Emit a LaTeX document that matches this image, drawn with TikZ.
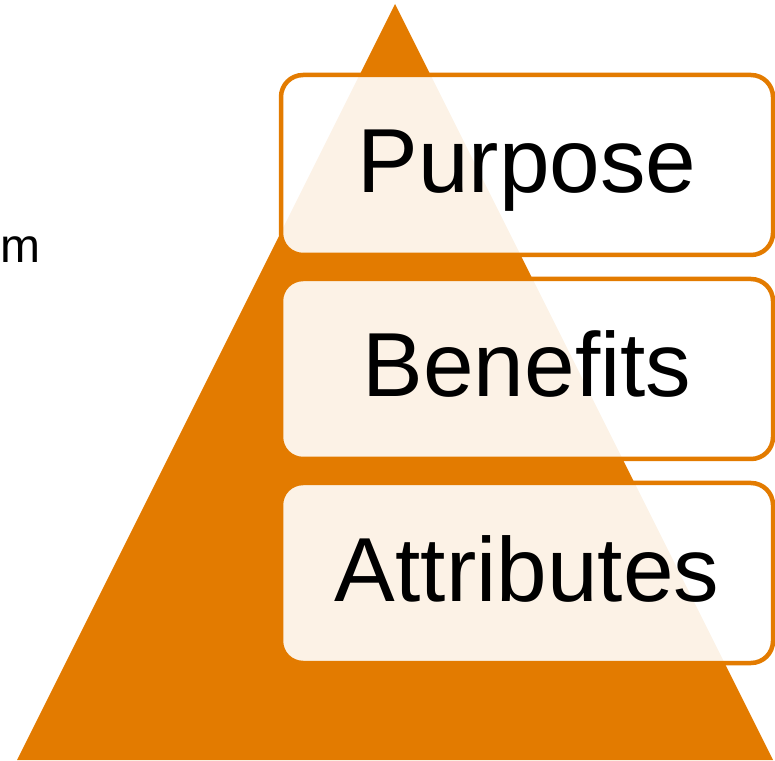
\documentclass[tikz,border=0pt]{standalone}
\usepackage{fontspec}
\setmainfont{Liberation Sans}
\usetikzlibrary{shapes}
\definecolor{pyramid}{RGB}{227,123,0}
\tikzstyle{level} =
        [
                rectangle,
                draw = pyramid,
                line width = 4.5pt,
                fill = white,
                fill opacity = 0.9,
                text opacity = 1,
                rounded corners = 22pt,
                minimum width = 492pt,
                minimum height = 180pt,
                text height = 66pt,
                text depth = 10pt,
                font = \fontsize{91}{91}\selectfont
        ]
\tikzstyle{side} =
        [
                anchor = base east,
                inner sep = 0pt,
                font = \fontsize{48}{48}\selectfont
        ]

\begin{document}
\begin{tikzpicture}[x = 1pt, y = 1pt]
        \useasboundingbox (0,0) rectangle (775,760);
        \clip (0,0) rectangle (775,760);
        \fill [pyramid] (395,756) -- (773,0) -- (17,0) -- cycle;

        \node [level] (purpose) at (527,595) {Purpose};
        \node [level, below of = purpose, node distance = 204pt] (benefits) {Benefits};
        \node [level, below of = benefits, node distance = 204pt] (attributes) {Attributes};

        \node [side] (cut) at (41,497) {m};
\end{tikzpicture}
\end{document}
